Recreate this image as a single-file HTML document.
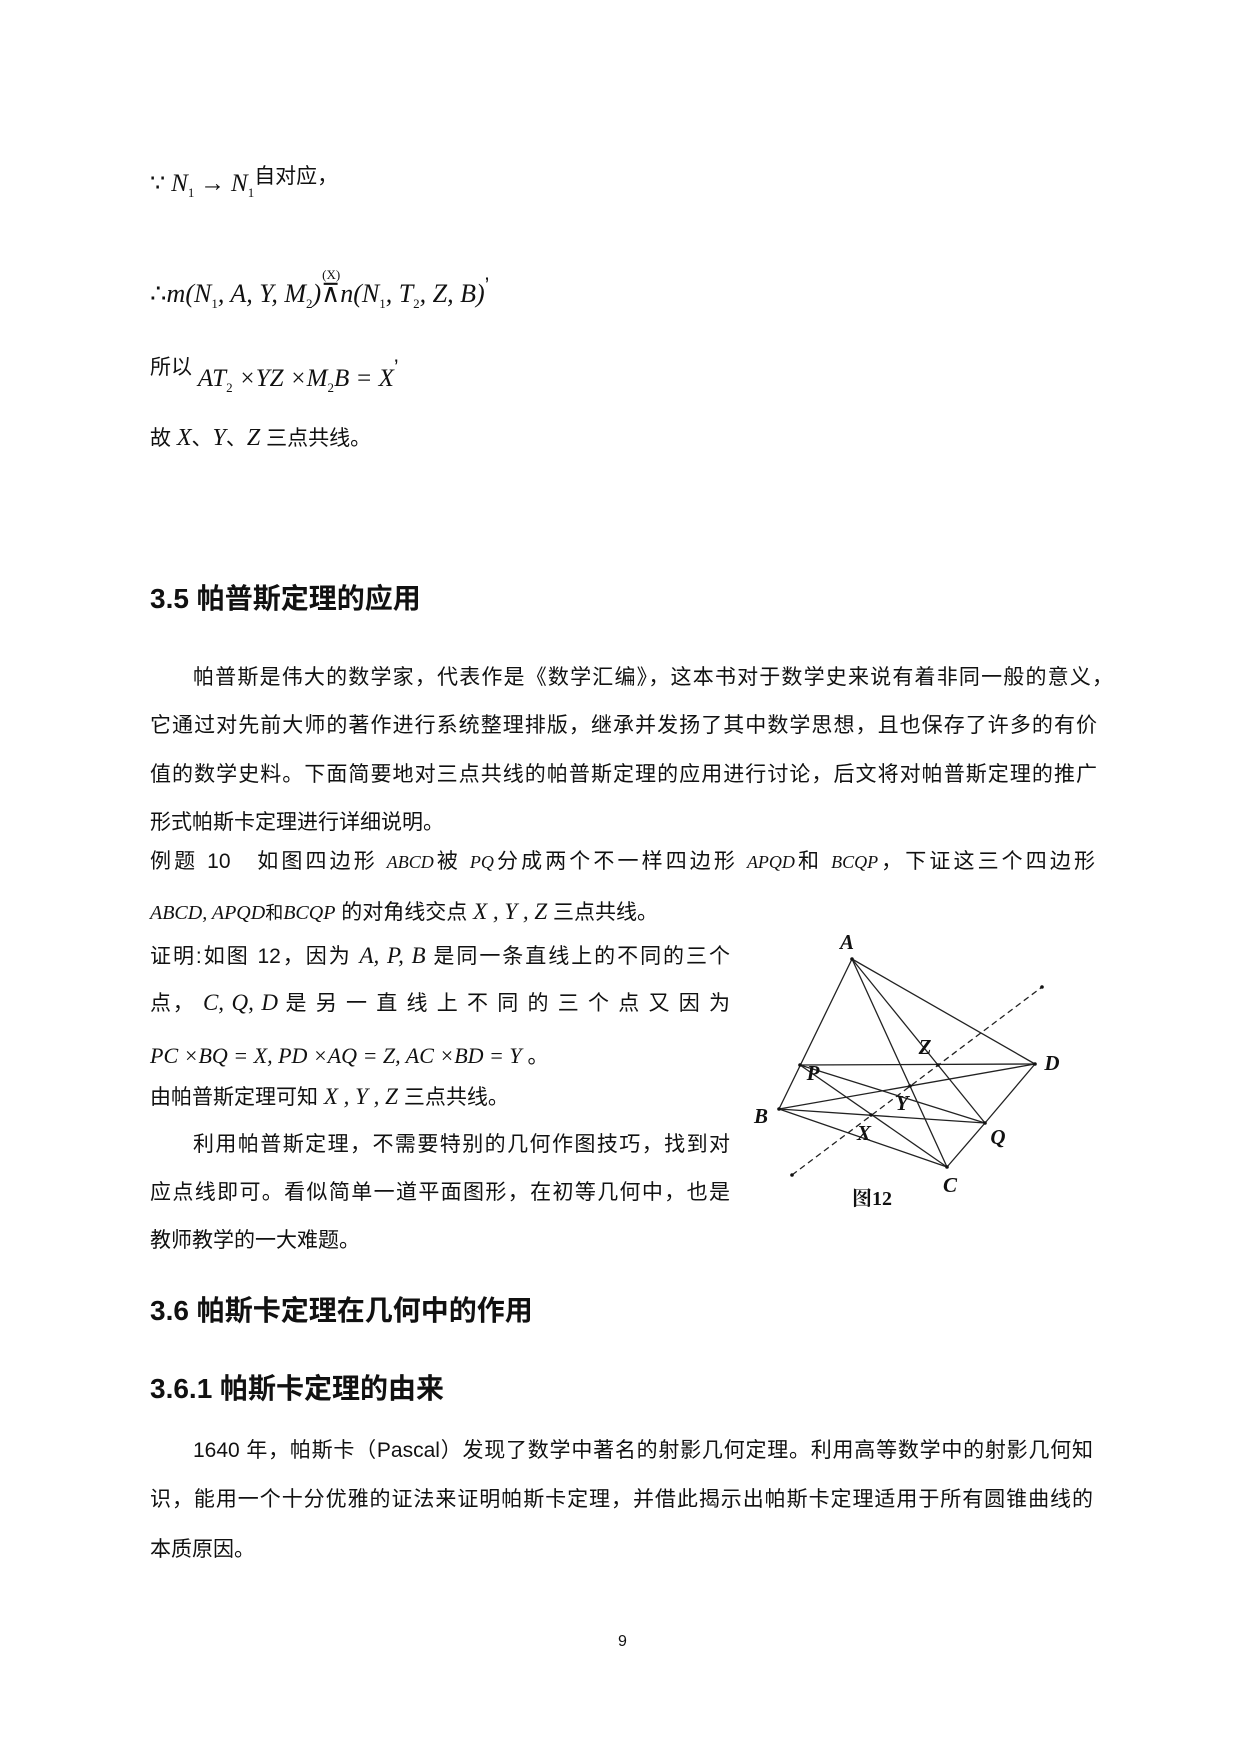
<!DOCTYPE html>
<html><head><meta charset="utf-8"><style>
body{margin:0;background:#fff;}
.pg{position:relative;width:1240px;height:1754px;background:#fff;overflow:hidden;font-family:"Liberation Sans","Noto Sans CJK SC",sans-serif;color:#111;}
.l{position:absolute;font-size:21px;line-height:24px;white-space:nowrap;}
.j{text-align:justify;text-align-last:justify;white-space:normal;}
.m{font-family:"Liberation Serif",serif;font-style:italic;font-size:22px;}
.h{position:absolute;font-weight:bold;font-size:28px;line-height:30px;white-space:nowrap;}
sub{font-size:13px;font-style:normal;}
</style></head><body><div class="pg">
<div class="l" style="left:150px;top:172px"><span class="m" style="font-style:normal;font-size:24px">∵</span> <span class="m" style="font-size:25px">N<sub>1</sub></span> <span class="m" style="font-style:normal;font-size:25px">→</span> <span class="m" style="font-size:25px">N<sub>1</sub></span><span style="position:relative;top:-8px">自对应，</span></div>
<div class="l" style="left:150px;top:282px"><span class="m" style="font-size:26px"><span style="font-style:normal">∴</span>m(N<sub>1</sub>, A, Y, M<sub>2</sub>)<span style="font-style:normal;position:relative;"><span style="position:absolute;font-size:13px;top:-16px;left:1px">(X)</span>⊼</span>n(N<sub>1</sub>, T<sub>2</sub>, Z, B)</span><span style="position:relative;top:-10px">’</span></div>
<div class="l" style="left:150px;top:355px">所以 <span class="m" style="position:relative;top:12px;font-size:25px">AT<sub>2</sub> ×YZ ×M<sub>2</sub>B = X</span><span>’</span></div>
<div class="l" style="left:150px;top:426px">故 <span class="m" style="font-size:24px">X</span>、<span class="m" style="font-size:24px">Y</span>、<span class="m" style="font-size:24px">Z</span> 三点共线。</div>
<div class="h" style="left:150px;top:584px">3.5 帕普斯定理的应用</div>
<div class="l j" style="left:193px;top:666px;width:920px">帕普斯是伟大的数学家，代表作是《数学汇编》，这本书对于数学史来说有着非同一般的意义，</div>
<div class="l j" style="left:150px;top:714px;width:947px">它通过对先前大师的著作进行系统整理排版，继承并发扬了其中数学思想，且也保存了许多的有价</div>
<div class="l j" style="left:150px;top:763px;width:947px">值的数学史料。下面简要地对三点共线的帕普斯定理的应用进行讨论，后文将对帕普斯定理的推广</div>
<div class="l" style="left:150px;top:811px">形式帕斯卡定理进行详细说明。</div>
<div class="l j" style="left:150px;top:850px;width:945px">例题 10 &nbsp; 如图四边形 <span class="m" style="font-size:18px">ABCD</span>被 <span class="m" style="font-size:18px">PQ</span>分成两个不一样四边形 <span class="m" style="font-size:18px">APQD</span>和 <span class="m" style="font-size:18px">BCQP</span>，下证这三个四边形</div>
<div class="l" style="left:150px;top:900px"><span class="m" style="font-size:20px">ABCD, APQD</span><span style="font-size:18px">和</span><span class="m" style="font-size:20px">BCQP</span> 的对角线交点 <span class="m" style="font-size:23px">X , Y , Z</span> 三点共线。</div>
<div class="l j" style="left:150px;top:944px;width:580px">证明:如图 12，因为 <span class="m" style="font-size:23px">A, P, B</span> 是同一条直线上的不同的三个</div>
<div class="l j" style="left:150px;top:991px;width:580px">点， <span class="m" style="font-size:23px">C, Q, D</span> 是 另 一 直 线 上 不 同 的 三 个 点 又 因 为</div>
<div class="l" style="left:150px;top:1044px"><span class="m" style="font-size:22px">PC ×BQ = X, PD ×AQ = Z, AC ×BD = Y</span> 。</div>
<div class="l" style="left:150px;top:1085px">由帕普斯定理可知 <span class="m" style="font-size:23px">X , Y , Z</span> 三点共线。</div>
<div class="l j" style="left:193px;top:1133px;width:537px">利用帕普斯定理，不需要特别的几何作图技巧，找到对</div>
<div class="l j" style="left:150px;top:1181px;width:580px">应点线即可。看似简单一道平面图形，在初等几何中，也是</div>
<div class="l" style="left:150px;top:1229px">教师教学的一大难题。</div>
<div class="h" style="left:150px;top:1296px">3.6 帕斯卡定理在几何中的作用</div>
<div class="h" style="left:150px;top:1374px">3.6.1 帕斯卡定理的由来</div>
<div class="l j" style="left:193px;top:1439px;width:900px">1640 年，帕斯卡（Pascal）发现了数学中著名的射影几何定理。利用高等数学中的射影几何知</div>
<div class="l j" style="left:150px;top:1488px;width:943px">识，能用一个十分优雅的证法来证明帕斯卡定理，并借此揭示出帕斯卡定理适用于所有圆锥曲线的</div>
<div class="l" style="left:150px;top:1538px">本质原因。</div>
<div class="l" style="left:618px;top:1630px;font-size:16px">9</div>
<svg style="position:absolute;left:0;top:0" width="1240" height="1754">
<g stroke="#222" stroke-width="1.3" fill="none">
<line x1="852" y1="959" x2="779" y2="1109"/>
<line x1="852" y1="959" x2="1035" y2="1064"/>
<line x1="852" y1="959" x2="947" y2="1167"/>
<line x1="852" y1="959" x2="985" y2="1123"/>
<line x1="800" y1="1065" x2="1035" y2="1064"/>
<line x1="800" y1="1065" x2="985" y2="1123"/>
<line x1="800" y1="1065" x2="947" y2="1167"/>
<line x1="779" y1="1109" x2="1035" y2="1064"/>
<line x1="779" y1="1109" x2="985" y2="1123"/>
<line x1="779" y1="1109" x2="947" y2="1167"/>
<line x1="947" y1="1167" x2="985" y2="1123"/>
<line x1="985" y1="1123" x2="1035" y2="1064"/>
<line x1="792" y1="1175" x2="1042" y2="987" stroke-dasharray="6,4"/>
</g>
<g fill="#111">
<circle cx="852" cy="959" r="1.8"/><circle cx="1035" cy="1064" r="1.8"/><circle cx="800" cy="1065" r="1.8"/><circle cx="779" cy="1109" r="1.8"/><circle cx="985" cy="1123" r="1.8"/><circle cx="947" cy="1167" r="1.8"/><circle cx="938" cy="1065" r="1.8"/><circle cx="910" cy="1086" r="1.8"/><circle cx="871" cy="1115" r="1.8"/><circle cx="792" cy="1175" r="1.8"/><circle cx="1042" cy="987" r="1.8"/>
</g>
<g font-family="Liberation Serif,serif" font-style="italic" font-weight="bold" font-size="21" fill="#111" text-anchor="middle">
<text x="847" y="949">A</text><text x="925" y="1054">Z</text><text x="1052" y="1070">D</text><text x="813" y="1080">P</text><text x="761" y="1123">B</text><text x="902" y="1110">Y</text><text x="864" y="1140">X</text><text x="998" y="1144">Q</text><text x="950" y="1192">C</text>
</g>
<text x="872" y="1205" font-family="Liberation Serif,Noto Serif CJK SC,serif" font-weight="bold" font-size="20" text-anchor="middle" fill="#111">图12</text>
</svg>
</div></body></html>
